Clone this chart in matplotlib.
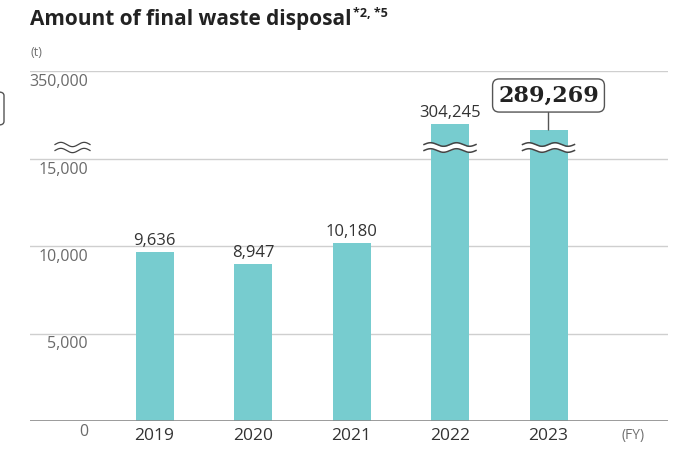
import numpy as np
import matplotlib
matplotlib.use("Agg")
import matplotlib.pyplot as plt
import matplotlib.transforms as mtransforms
from matplotlib.patches import FancyBboxPatch

plt.rcParams['font.family'] = ['Open Sans', 'DejaVu Sans']

# ---- data ----
years = ["2019", "2020", "2021", "2022", "2023"]
values = [9636, 8947, 10180, 304245, 289269]
value_labels = ["9,636", "8,947", "10,180", "304,245", "289,269"]
ytick_vals = [0, 5000, 10000, 15000, 20000]
ytick_labels = ["0", "5,000", "10,000", "15,000", "350,000"]
highlight_index = 4

# broken-axis mapping for large values
BREAK = 15000
UPPER_START = 217945
UPPER_SCALE = 0.02284


def to_display(v):
    if v <= BREAK:
        return v
    return BREAK + (v - UPPER_START) * UPPER_SCALE


W, H = 674, 454
fig = plt.figure(figsize=(W / 100, H / 100), dpi=100)
ax_l, ax_r, ax_b, ax_t = 30, 668, 421, 71
ax = fig.add_axes([ax_l / W, (H - ax_b) / H, (ax_r - ax_l) / W, (ax_b - ax_t) / H])

spacing_px = 98.5
c0 = 154.5
ax.set_xlim((ax_l - c0) / spacing_px, (ax_r - c0) / spacing_px)
ax.set_ylim(0, 20000)
ax.axis('off')

bar_color = "#77CCCF"
x = np.arange(len(years))
disp = [to_display(v) for v in values]
ax.bar(x, disp, width=38 / spacing_px, color=bar_color, zorder=2)

# gridlines
for yv in ytick_vals[1:]:
    ax.axhline(yv, color="#cfcfcf", lw=1.0, zorder=1)
ax.axhline(0, color="#8a8a8a", lw=1.2, zorder=3)

# y tick labels (below lines, right aligned)
ytrans = mtransforms.blended_transform_factory(ax.transAxes, ax.transData)
off = mtransforms.ScaledTranslation(0, -3 / 100, fig.dpi_scale_trans)
for yv, lab in zip(ytick_vals, ytick_labels):
    ax.text((88 - ax_l) / (ax_r - ax_l), yv, lab, transform=ytrans + off,
            ha='right', va='top', fontsize=11.5, color="#6a6a6a")

# x labels
xoff = mtransforms.ScaledTranslation(0, -7 / 100, fig.dpi_scale_trans)
for xi, yr in zip(x, years):
    ax.text(xi, 0, yr, transform=ax.transData + xoff, ha='center', va='top',
            fontsize=12.5, color="#333333")
ax.text(4.86, 0, "(FY)", transform=ax.transData + xoff, ha='center', va='top',
        fontsize=10, color="#707070")

# value labels
loff = mtransforms.ScaledTranslation(0, 3 / 100, fig.dpi_scale_trans)
for i, (xi, d, lab) in enumerate(zip(x, disp, value_labels)):
    if i == highlight_index:
        continue
    ax.text(xi, d, lab, transform=ax.transData + loff, ha='center', va='bottom',
            fontsize=12, color="#333333")

# highlight annotation box
ax.annotate(value_labels[highlight_index], xy=(x[highlight_index], disp[highlight_index]),
            xytext=(x[highlight_index], (ax_b - 95.5) / 350 * 20000),
            ha='center', va='center', fontsize=16, fontweight='bold',
            family='DejaVu Serif', color="#222222",
            bbox=dict(boxstyle="round,pad=0.25,rounding_size=0.3", fc="white",
                      ec="#555555", lw=1.0),
            arrowprops=dict(arrowstyle='-', color="#555555", lw=1.0,
                            shrinkA=0, shrinkB=0),
            zorder=5)

# wavy break marks on bars
unit_per_px = 20000 / 350
wave_center = (ax_b - 147.5) * unit_per_px
amp = 1.8 * unit_per_px
sep = 3.0 * unit_per_px
for i, v in enumerate(values):
    if v > BREAK:
        half = 26 / spacing_px
        xs = np.linspace(x[i] - half, x[i] + half, 200)
        ph = np.sin((xs - (x[i] - half)) / (2 * half) * 2 * np.pi * 2)
        y_up = wave_center + sep + amp * ph
        y_dn = wave_center - sep + amp * ph
        ax.fill_between(xs, y_dn, y_up, color="white", zorder=4, lw=0)
        ax.plot(xs, y_up, color="#444444", lw=1.1, zorder=4.5)
        ax.plot(xs, y_dn, color="#444444", lw=1.1, zorder=4.5)

# wavy break on y-axis
xa0, xa1 = (55 - ax_l) / (ax_r - ax_l), (90 - ax_l) / (ax_r - ax_l)
xs = np.linspace(xa0, xa1, 150)
ph = np.sin((xs - xa0) / (xa1 - xa0) * 2 * np.pi * 1.5)
for s in (sep, -sep):
    ax.plot(xs, wave_center + s + amp * 1.2 * ph, transform=ytrans, color="#444444",
            lw=0.9, clip_on=False, zorder=4)

# title
title = fig.text(30 / W, 1 - 20 / H, "Amount of final waste disposal", ha='left',
                 va='center', fontsize=15, fontweight='bold', color="#222222")
fig.canvas.draw()
ax.annotate("*2, *5", xy=(1.0, 1.0), xycoords=title, xytext=(1, 2),
            textcoords='offset points', ha='left', va='top', fontsize=9,
            fontweight='bold', color="#222222", annotation_clip=False)

fig.text(30 / W, 1 - 52 / H, "(t)", ha='left', va='center', fontsize=9,
         color="#707070")

# partial box at the left edge
fig.patches.append(FancyBboxPatch((-12 / W, 1 - 125 / H), 16 / W, 33 / H,
                                  boxstyle="round,pad=0,rounding_size=0.008",
                                  transform=fig.transFigure, fc="white",
                                  ec="#555555", lw=1.0, figure=fig))

fig.savefig("out.png", dpi=100)
